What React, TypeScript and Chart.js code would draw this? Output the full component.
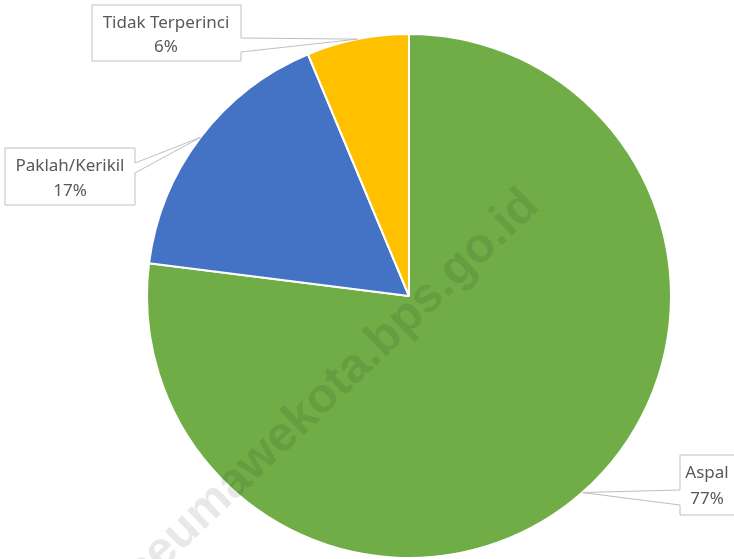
import React, { useEffect, useRef } from 'react';
import { Chart, registerables } from 'chart.js';

Chart.register(...registerables);

const categories = ['Aspal', 'Paklah/Kerikil', 'Tidak Terperinci'];
const values = [77.0, 16.7, 6.3];
const colors = ['#70AD47', '#4472C4', '#FFC000'];
const watermark = 'lhokseumawekota.bps.go.id';

// callout boxes: [x, y, w, h], wedge side and wedge base span, text centre + line middles
const calloutLayout = [
  { box: [680, 455, 60, 60], side: 'left', wedge: [490, 505], tx: 707, ty: [473, 499] },
  { box: [5, 148, 130, 57], side: 'right', wedge: [163, 173], tx: 70, ty: [166, 191] },
  { box: [92, 5, 149, 56], side: 'right', wedge: [38, 52], tx: 166, ty: [23, 47] },
];

const calloutPlugin = {
  id: 'callouts',
  afterDatasetsDraw(chart: any) {
    const ctx = chart.ctx;
    // watermark
    ctx.save();
    ctx.translate(541, 208);
    ctx.rotate((-43.7 * Math.PI) / 180);
    ctx.font = 'bold 49px "Liberation Sans", Arial, sans-serif';
    ctx.fillStyle = 'rgba(0,0,0,0.09)';
    ctx.textAlign = 'right';
    ctx.textBaseline = 'alphabetic';
    ctx.fillText(watermark, 0, 0);
    ctx.restore();

    const meta = chart.getDatasetMeta(0);
    const ds = chart.data.datasets[0].data as number[];
    const total = ds.reduce((a: number, b: number) => a + b, 0);
    meta.data.forEach((arc: any, i: number) => {
      const p = arc.getProps(['x', 'y', 'startAngle', 'endAngle', 'outerRadius'], true);
      const mid = (p.startAngle + p.endAngle) / 2;
      const ax = p.x + p.outerRadius * Math.cos(mid);
      const ay = p.y + p.outerRadius * Math.sin(mid);
      const L = calloutLayout[i];
      const [bx, by, bw, bh] = L.box;
      ctx.save();
      ctx.beginPath();
      if (L.side === 'right') {
        ctx.moveTo(bx, by);
        ctx.lineTo(bx + bw, by);
        ctx.lineTo(bx + bw, L.wedge[0]);
        ctx.lineTo(ax, ay);
        ctx.lineTo(bx + bw, L.wedge[1]);
        ctx.lineTo(bx + bw, by + bh);
        ctx.lineTo(bx, by + bh);
        ctx.closePath();
      } else {
        ctx.moveTo(bx, by);
        ctx.lineTo(bx + bw, by);
        ctx.lineTo(bx + bw, by + bh);
        ctx.lineTo(bx, by + bh);
        ctx.lineTo(bx, L.wedge[1]);
        ctx.lineTo(ax, ay);
        ctx.lineTo(bx, L.wedge[0]);
        ctx.closePath();
      }
      ctx.fillStyle = '#ffffff';
      ctx.fill();
      ctx.strokeStyle = '#bfbfbf';
      ctx.lineWidth = 1;
      ctx.stroke();
      ctx.fillStyle = '#595959';
      ctx.font = '17px "Noto Sans", "Open Sans", sans-serif';
      ctx.textAlign = 'center';
      ctx.textBaseline = 'middle';
      ctx.fillText(chart.data.labels[i], L.tx, L.ty[0]);
      ctx.fillText(Math.round((ds[i] / total) * 100) + '%', L.tx, L.ty[1]);
      ctx.restore();
    });
  },
};

export default function App() {
  const ref = useRef<HTMLCanvasElement>(null);
  useEffect(() => {
    document.body.style.margin = '0';
    const chart = new Chart(ref.current as HTMLCanvasElement, {
      type: 'pie',
      data: {
        labels: categories,
        datasets: [
          {
            data: values,
            backgroundColor: colors,
            borderColor: '#ffffff',
            borderWidth: 2,
          },
        ],
      },
      options: {
        animation: false,
        responsive: true,
        maintainAspectRatio: false,
        layout: { padding: { left: 146, right: 62, top: 33, bottom: 0 } },
        plugins: { legend: { display: false }, tooltip: { enabled: false } },
      },
      plugins: [calloutPlugin],
    });
    return () => chart.destroy();
  }, []);
  return (
    <div style={{ position: 'fixed', left: 0, top: 0, width: 734, height: 559, background: '#fff' }}>
      <canvas ref={ref} />
    </div>
  );
}
